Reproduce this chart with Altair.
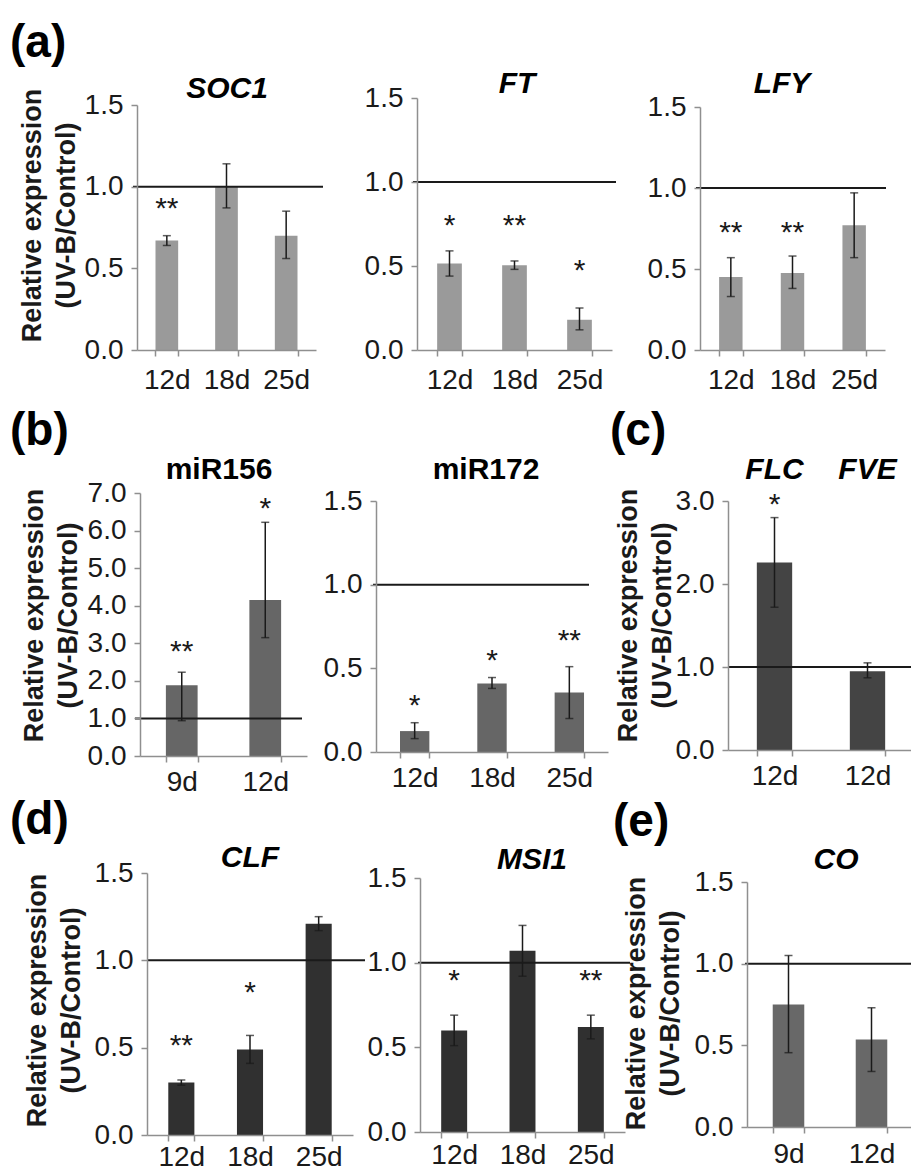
import altair as alt
import pandas as pd

FONT = "Liberation Sans"
W, H = 911, 1171
AX = "#8f8f8f"      # axis line / tick colour
TXT = "#1a1a1a"     # text colour
ERR = "#1a1a1a"     # error bar colour
TICK_FS = 28
YT_LH = 34          # line height of the two-line y title

# ---------------- data ----------------
ref_level = [1.0]

ticks_15 = [0.0, 0.5, 1.0, 1.5]
ticks_7 = [0, 1, 2, 3, 4, 5, 6, 7]
ticks_3 = [0, 1, 2, 3]

soc1_days = ["12d", "18d", "25d"]
soc1_mean = [0.67, 1.00, 0.70]
soc1_low = [0.64, 0.87, 0.56]
soc1_high = [0.70, 1.14, 0.85]
soc1_sig = ["**", "", ""]
soc1_sig_y = [0.91, 0, 0]

ft_days = ["12d", "18d", "25d"]
ft_mean = [0.515, 0.505, 0.18]
ft_low = [0.44, 0.48, 0.12]
ft_high = [0.59, 0.53, 0.25]
ft_sig = ["*", "**", "*"]
ft_sig_y = [0.785, 0.785, 0.52]

lfy_days = ["12d", "18d", "25d"]
lfy_mean = [0.45, 0.475, 0.77]
lfy_low = [0.33, 0.38, 0.57]
lfy_high = [0.57, 0.58, 0.97]
lfy_sig = ["**", "**", ""]
lfy_sig_y = [0.77, 0.77, 0]

mir156_days = ["9d", "12d"]
mir156_mean = [1.88, 4.15]
mir156_low = [0.94, 3.15]
mir156_high = [2.23, 6.22]
mir156_sig = ["**", "*"]
mir156_sig_y = [2.98, 6.78]

mir172_days = ["12d", "18d", "25d"]
mir172_mean = [0.125, 0.41, 0.355]
mir172_low = [0.08, 0.38, 0.20]
mir172_high = [0.175, 0.445, 0.51]
mir172_sig = ["*", "*", "**"]
mir172_sig_y = [0.32, 0.59, 0.71]

c_genes = ["FLC", "FVE"]
c_days = ["12d", "12d"]
c_mean = [2.26, 0.95]
c_low = [1.72, 0.87]
c_high = [2.80, 1.05]
c_sig = ["*", ""]
c_sig_y = [3.05, 0]

clf_days = ["12d", "18d", "25d"]
clf_mean = [0.30, 0.49, 1.21]
clf_low = [0.285, 0.41, 1.17]
clf_high = [0.315, 0.57, 1.25]
clf_sig = ["**", "*", ""]
clf_sig_y = [0.555, 0.86, 0]

msi1_days = ["12d", "18d", "25d"]
msi1_mean = [0.60, 1.07, 0.62]
msi1_low = [0.51, 0.92, 0.55]
msi1_high = [0.69, 1.22, 0.69]
msi1_sig = ["*", "", "**"]
msi1_sig_y = [0.94, 0, 0.94]

co_days = ["9d", "12d"]
co_mean = [0.75, 0.535]
co_low = [0.455, 0.34]
co_high = [1.05, 0.73]
co_sig = ["", ""]
co_sig_y = [0, 0]

ytitle = ["Relative expression", "(UV-B/Control)"]
letters = ["(a)", "(b)", "(c)", "(d)", "(e)"]

# ---------------- layout (pixel placement of each panel) ----------------
# yt = (right edge of the second title line, vertical centre of the title)
LAY = {
    "SOC1": dict(x0=137, x1=316, y0=350, y1=105, rx0=133, rx1=323, color="#9a9a9a", xpad=10, tx=227, ty=89, yt=(80, 215)),
    "FT": dict(x0=417, x1=612, y0=350, y1=98, rx0=413, rx1=616, color="#9a9a9a", xpad=10, tx=517, ty=84),
    "LFY": dict(x0=700, x1=885, y0=350, y1=107, rx0=696, rx1=886, color="#9a9a9a", xpad=10, tx=782, ty=84),
    "miR156": dict(x0=140, x1=307, y0=756, y1=493, rx0=135, rx1=302, color="#666666", xpad=6, tx=219, ty=470, yt=(82, 615)),
    "miR172": dict(x0=376, x1=608, y0=752, y1=501, rx0=373, rx1=589, color="#666666", xpad=6, tx=486, ty=470),
    "C": dict(x0=728, x1=914, y0=750, y1=501, rx0=728, rx1=911, color="#444444", xpad=6, ty=470, yt=(676, 615)),
    "CLF": dict(x0=147, x1=353, y0=1135, y1=873, rx0=147, rx1=365, color="#303030", xpad=2, tx=250, ty=858, yt=(85, 1000)),
    "MSI1": dict(x0=420, x1=625, y0=1132, y1=878, rx0=418, rx1=630, color="#303030", xpad=3, tx=532, ty=860),
    "CO": dict(x0=747, x1=913, y0=1127, y1=882, rx0=745, rx1=911, color="#686868", xpad=7, tx=836, ty=860, yt=(684, 1003)),
}
LETTER_POS = [(10, 43), (10, 431), (610, 431), (10, 820), (613, 822)]


def panel(key, cats, labels, mean, low, high, sig, sig_y, ticks, title=None,
          italic=True, gene_titles=False):
    """Return a flat list of layers; every layer carries the same explicit scales."""
    L = LAY[key]
    df = pd.DataFrame({"cat": cats, "label": labels, "mean": mean, "low": low,
                       "high": high, "sig": sig, "sig_y": sig_y})
    xs = alt.Scale(domain=cats, range=[L["x0"], L["x1"]], paddingInner=0.62, paddingOuter=0.31)
    ys = alt.Scale(domain=[ticks[0], ticks[-1]], range=[L["y0"], L["y1"]], nice=False, zero=True)

    expr = "datum.value"
    for c, l in zip(cats, labels):
        expr = f"datum.value == '{c}' ? '{l}' : ({expr})"

    xaxis = alt.Axis(orient="bottom", offset=L["y0"] - H, title=None, labelAngle=0,
                     tickBand="extent", grid=False, domainColor=AX, tickColor=AX,
                     domainWidth=1.5, tickWidth=1.5, tickSize=6, labelFont=FONT,
                     labelFontSize=TICK_FS, labelColor=TXT, labelPadding=L["xpad"],
                     labelExpr=expr, labelOverlap=False, zindex=1)
    yargs = dict(orient="left", offset=-L["x0"], values=ticks, format=".1f", grid=False,
                 domainColor=AX, tickColor=AX, domainWidth=1.5, tickWidth=1.5, tickSize=6,
                 labelFont=FONT, labelFontSize=TICK_FS, labelColor=TXT, labelPadding=8,
                 labelOverlap=False, zindex=1)
    if "yt" in L:
        right, cy = L["yt"]
        yargs.update(title=ytitle, titleX=right - YT_LH - L["x0"], titleY=cy, titleBaseline="bottom",
                     titleAlign="center", titleAngle=270, titleFont=FONT, titleFontSize=27,
                     titleFontWeight="bold", titleColor=TXT, titleLineHeight=YT_LH)
    else:
        yargs.update(title=None)
    yaxis = alt.Axis(**yargs)

    def X(ax=None):
        return alt.X("cat:N", scale=xs, axis=ax)

    base = alt.Chart(df)
    bars = base.mark_bar(color=L["color"]).encode(x=X(xaxis), y=alt.Y("mean:Q", scale=ys, axis=yaxis))
    err = base.mark_rule(color=ERR, strokeWidth=1.5).encode(
        x=X(), y=alt.Y("low:Q", scale=ys, axis=None), y2="high:Q")
    cap_lo = base.mark_tick(color=ERR, thickness=1.5, size=8).encode(
        x=X(), y=alt.Y("low:Q", scale=ys, axis=None))
    cap_hi = base.mark_tick(color=ERR, thickness=1.5, size=8).encode(
        x=X(), y=alt.Y("high:Q", scale=ys, axis=None))
    ref = alt.Chart(pd.DataFrame({"ref": ref_level})).mark_rule(color="#1a1a1a", strokeWidth=2).encode(
        y=alt.Y("ref:Q", scale=ys, axis=None), x=alt.value(L["rx0"]), x2=alt.value(L["rx1"]))
    stars = base.transform_filter("datum.sig != ''").mark_text(
        font=FONT, fontSize=30, color=TXT, baseline="alphabetic", align="center", dy=17).encode(
        x=X(), y=alt.Y("sig_y:Q", scale=ys, axis=None), text="sig:N")
    layers = [bars, err, cap_lo, cap_hi, ref, stars]
    tstyle = dict(font=FONT, fontSize=30, fontWeight="bold", color="#000000",
                  baseline="middle", align="center")
    if italic:
        tstyle["fontStyle"] = "italic"
    if title is not None:
        layers.append(alt.Chart(pd.DataFrame({"t": [title]})).mark_text(**tstyle).encode(
            text="t:N", x=alt.value(L["tx"]), y=alt.value(L["ty"])))
    if gene_titles:
        layers.append(base.mark_text(**tstyle).encode(
            x=X(), y=alt.value(L["ty"]), text="cat:N"))
    return layers


all_layers = []
all_layers += panel("SOC1", soc1_days, soc1_days, soc1_mean, soc1_low, soc1_high, soc1_sig, soc1_sig_y, ticks_15, "SOC1")
all_layers += panel("FT", ft_days, ft_days, ft_mean, ft_low, ft_high, ft_sig, ft_sig_y, ticks_15, "FT")
all_layers += panel("LFY", lfy_days, lfy_days, lfy_mean, lfy_low, lfy_high, lfy_sig, lfy_sig_y, ticks_15, "LFY")
all_layers += panel("miR156", mir156_days, mir156_days, mir156_mean, mir156_low, mir156_high, mir156_sig, mir156_sig_y, ticks_7, "miR156", italic=False)
all_layers += panel("miR172", mir172_days, mir172_days, mir172_mean, mir172_low, mir172_high, mir172_sig, mir172_sig_y, ticks_15, "miR172", italic=False)
all_layers += panel("C", c_genes, c_days, c_mean, c_low, c_high, c_sig, c_sig_y, ticks_3, None, gene_titles=True)
all_layers += panel("CLF", clf_days, clf_days, clf_mean, clf_low, clf_high, clf_sig, clf_sig_y, ticks_15, "CLF")
all_layers += panel("MSI1", msi1_days, msi1_days, msi1_mean, msi1_low, msi1_high, msi1_sig, msi1_sig_y, ticks_15, "MSI1")
all_layers += panel("CO", co_days, co_days, co_mean, co_low, co_high, co_sig, co_sig_y, ticks_15, "CO")

for t, (px, py) in zip(letters, LETTER_POS):
    all_layers.append(alt.Chart(pd.DataFrame({"t": [t]})).mark_text(
        font=FONT, fontSize=46, fontWeight="bold", color="#000000", align="left", baseline="middle").encode(
        text="t:N", x=alt.value(px), y=alt.value(py)))

chart = alt.layer(*all_layers).resolve_scale(
    x="independent", y="independent").resolve_axis(x="independent", y="independent").properties(
    width=W, height=H, padding=0, background="white",
    autosize=alt.AutoSizeParams(type="none")).configure_view(strokeWidth=0)

chart.save("out.html", embed_options={"renderer": "svg", "actions": False})
